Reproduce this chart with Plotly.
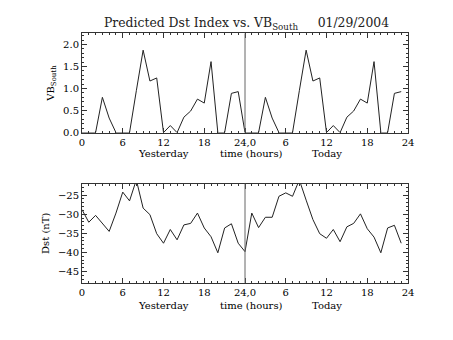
import plotly.graph_objects as go

hours = list(range(48))
vb_day = [0, 0, 0, 0.80, 0.33, 0, 0, 0, 0.95, 1.87, 1.17, 1.24, 0, 0.16, 0, 0.35,
          0.49, 0.76, 0.67, 1.61, 0, 0, 0.89, 0.93]
vb_south = vb_day + vb_day
dst = [-28.8, -32.1, -30.3, -32.3, -34.5, -29.7, -24.2, -26.5, -21.0, -28.4, -30.1, -35.1,
       -37.6, -34.0, -36.7, -32.8, -32.4, -29.7, -33.6, -35.9, -40.1, -33.6, -32.5, -37.6,
       -39.8, -29.7, -33.5, -30.8, -30.8, -25.3, -24.4, -25.3, -21.0, -26.3, -31.4, -35.1,
       -36.3, -34.0, -37.2, -33.3, -32.4, -29.9, -33.8, -36.0, -40.1, -33.6, -32.9, -37.6]
tick_vals = [0, 6, 12, 18, 24, 30, 36, 42, 48]
tick_text = ["0", "6", "12", "18", "24,0", "6", "12", "18", "24"]
day_labels = ["Yesterday", "time (hours)", "Today"]
day_label_x = [12, 25, 36]
title_main = "Predicted Dst Index vs. VB<sub>South</sub>"
title_date = "01/29/2004"

FONT = "DejaVu Serif"
W, H = 453, 340

def py(pix):
    return (H - pix) / H

fig = go.Figure()
fig.add_trace(go.Scatter(x=hours, y=vb_south, mode="lines",
                         line=dict(color="#222", width=1), xaxis="x", yaxis="y",
                         showlegend=False))
fig.add_trace(go.Scatter(x=hours, y=dst, mode="lines",
                         line=dict(color="#222", width=1), xaxis="x2", yaxis="y2",
                         showlegend=False))

xcommon = dict(range=[0, 48], tickvals=tick_vals, ticktext=tick_text, ticks="inside",
               ticklen=5, tickcolor="#333", showline=True, linecolor="#333", linewidth=1,
               mirror="allticks", showgrid=False, zeroline=False,
               minor=dict(dtick=1, ticks="inside", ticklen=2, tickcolor="#333"),
               tickfont=dict(family=FONT, size=10, color="black"))
ycommon = dict(ticks="inside", ticklen=5, tickcolor="#333", showline=True, linecolor="#333",
               linewidth=1, mirror="allticks", showgrid=False, zeroline=False,
               tickfont=dict(family=FONT, size=10, color="black"))

fig.update_layout(
    width=W, height=H, margin=dict(l=82, r=45, t=0, b=0),
    paper_bgcolor="white", plot_bgcolor="white",
    xaxis=dict(domain=[0, 1], anchor="y", **xcommon),
    yaxis=dict(domain=[py(135), py(34)], anchor="x", range=[0, 2.25], dtick=0.5,
               tickformat=".1f",
               minor=dict(dtick=0.1, ticks="inside", ticklen=2, tickcolor="#333"),
               title=dict(text="VB<sub>South</sub>", font=dict(family=FONT, size=10, color="black"),
                          standoff=6),
               **ycommon),
    xaxis2=dict(domain=[0, 1], anchor="y2", **xcommon),
    yaxis2=dict(domain=[py(288), py(187)], anchor="x2", range=[-48, -22], dtick=5,
                minor=dict(dtick=1, ticks="inside", ticklen=2, tickcolor="#333"),
                title=dict(text="Dst (nT)", font=dict(family=FONT, size=10, color="black"),
                           standoff=6),
                **ycommon),
)

for xr, yr in (("x", "y"), ("x2", "y2")):
    fig.add_shape(type="line", xref=xr, yref=yr + " domain", x0=24, x1=24, y0=0, y1=1,
                  line=dict(color="#666", width=1))

for lab, lx in zip(day_labels, day_label_x):
    for yp in (156, 311):
        fig.add_annotation(text=lab, x=lx, xref="x", y=py(yp), yref="paper",
                           showarrow=False, font=dict(family=FONT, size=10, color="black"),
                           xanchor="center", yanchor="middle")

fig.add_annotation(text=title_main + "&nbsp;&nbsp;&nbsp;&nbsp;&nbsp;" + title_date,
                   x=229 / W, xref="paper", y=py(24), yref="paper", showarrow=False,
                   xanchor="center", yanchor="middle",
                   font=dict(family=FONT, size=12.4, color="#222"))

fig.write_html("out.html")
